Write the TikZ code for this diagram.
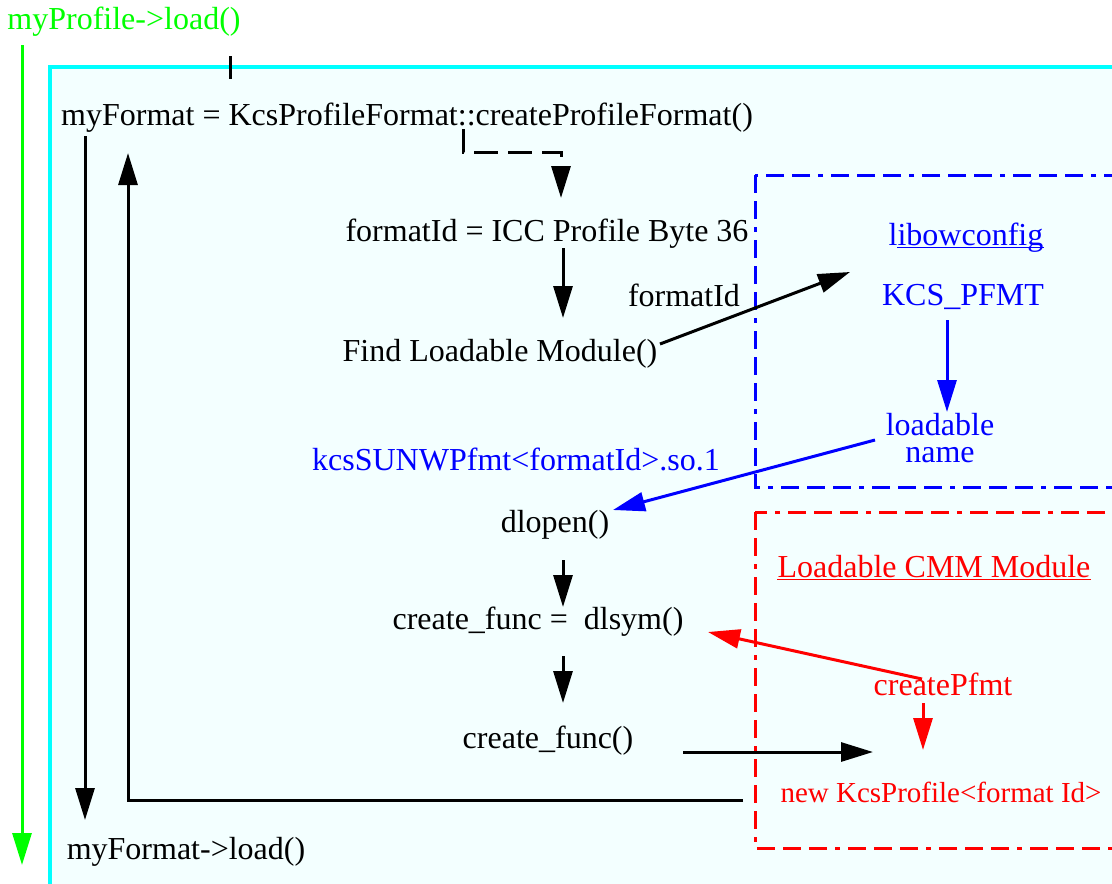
\documentclass[tikz,border=0pt]{standalone}
\usepackage{fontspec}
\setmainfont{Liberation Serif}
\usetikzlibrary{arrows.meta}
\definecolor{bgcyan}{RGB}{243,255,255}
\definecolor{mygreen}{RGB}{0,255,0}
\definecolor{mycyan}{RGB}{0,255,255}
\begin{document}
\begin{tikzpicture}[x=1pt,y=-1pt,
  txt/.style={inner sep=0pt, anchor=base, font=\fontsize{32}{24}\selectfont},
  arr/.style={line width=3pt, -{Triangle[length=32pt,width=19pt]}},
  ln/.style={line width=3pt},
  boxdash/.style={line width=3pt, dash pattern=on 18pt off 8pt on 18pt off 8pt on 5pt off 8pt on 18pt off 8pt},
  uline/.style={line width=1.4pt}
]
\useasboundingbox (0,0) rectangle (1112,884);
\fill[white] (0,0) rectangle (1112,884);
\begin{scope}
  \clip (0,0) rectangle (1112,884);
  \draw[mycyan, fill=bgcyan, line width=3.2pt] (50,67) rectangle (1140,910);
  \draw[blue, boxdash] (755,175) rectangle (1140,487);
  \draw[red, boxdash] (755,512) rectangle (1140,848);
\end{scope}

% texts
\node[txt, mygreen] (prof) at (124,29) {myProfile->load()};
\node[txt] (mf) at (407,125) {myFormat = KcsProfileFormat::createProfileFormat()};
\node[txt] (fid) at (547,241) {formatId = ICC Profile Byte 36};
\node[txt] (fidlbl) at (684,306) {formatId};
\node[txt] (find) at (500,361) {Find Loadable Module()};
\node[txt, blue] (lib) at (966,245) {libowconfig};
\node[txt, blue] (kcs) at (963,305) {KCS\_PFMT};
\node[txt, blue, align=center, font=\fontsize{32}{27}\selectfont] (lname) at (940,462) {loadable\\name};
\node[txt, blue] (so) at (516,470) {kcsSUNWPfmt<formatId>.so.1};
\node[txt] (dlopen) at (555,532) {dlopen()};
\node[txt, red] (cmm) at (934,577) {Loadable CMM Module};
\node[txt] (dlsym) at (538,629) {create\_func = \ dlsym()};
\node[txt, red] (cpf) at (943,695) {createPfmt};
\node[txt] (cf) at (548,748) {create\_func()};
\node[txt, red, font=\fontsize{29}{24}\selectfont] (newk) at (941,802) {new KcsProfile<format Id>};
\node[txt] (mfl) at (186,859) {myFormat->load()};

% underlines
\draw[blue, uline] ([shift={(9,2.5)}]lib.base west) -- ([shift={(0,2.5)}]lib.base east);
\draw[red, uline] ([shift={(0,2.5)}]cmm.base west) -- ([shift={(0,2.5)}]cmm.base east);

% connector end points
\coordinate (gtop) at (22,45);
\coordinate (gbot) at (22,865);
\coordinate (tickA) at (230,56);
\coordinate (tickB) at (230,79);
\coordinate (mfdown) at (85,136);
\coordinate (mfltop) at (85,820);
\coordinate (retA) at (743,800);
\coordinate (retB) at (128,800);
\coordinate (retC) at (128,153);
\coordinate (dA) at (463,129);
\coordinate (dB) at (463,152);
\coordinate (dC) at (561,152);
\coordinate (dD) at (561,198);
\coordinate (fidout) at (563,248);
\coordinate (findin) at (563,318);
\coordinate (findout) at (660,344);
\coordinate (libin) at (850,272);
\coordinate (kcsout) at (947,320);
\coordinate (lnin) at (947,412);
\coordinate (lnout) at (875,440);
\coordinate (dlopenin) at (613,510);
\coordinate (dlopenout) at (563,560);
\coordinate (dlsymin) at (563,607);
\coordinate (dlsymout) at (563,656);
\coordinate (cfin) at (563,703);
\coordinate (cpfout) at (922,679);
\coordinate (dlsymr) at (708,632);
\coordinate (cpfdown) at (923,703);
\coordinate (newkin) at (923,750);
\coordinate (cfout) at (683,752);
\coordinate (newkleft) at (873,752);

% connectors
\draw[mygreen, arr] (gtop) -- (gbot);
\draw[ln] (tickA) -- (tickB);
\draw[arr] (mfdown) -- (mfltop);
\draw[arr] (retA) -- (retB) -- (retC);
\draw[arr, dash pattern=on 24pt off 10pt] (dA) -- (dB) -- (dC) -- (dD);
\draw[arr] (fidout) -- (findin);
\draw[arr] (findout) -- (libin);
\draw[blue, arr] (kcsout) -- (lnin);
\draw[blue, arr] (lnout) -- (dlopenin);
\draw[arr] (dlopenout) -- (dlsymin);
\draw[arr] (dlsymout) -- (cfin);
\draw[red, arr] (cpfout) -- (dlsymr);
\draw[red, arr] (cpfdown) -- (newkin);
\draw[arr] (cfout) -- (newkleft);
\end{tikzpicture}
\end{document}
